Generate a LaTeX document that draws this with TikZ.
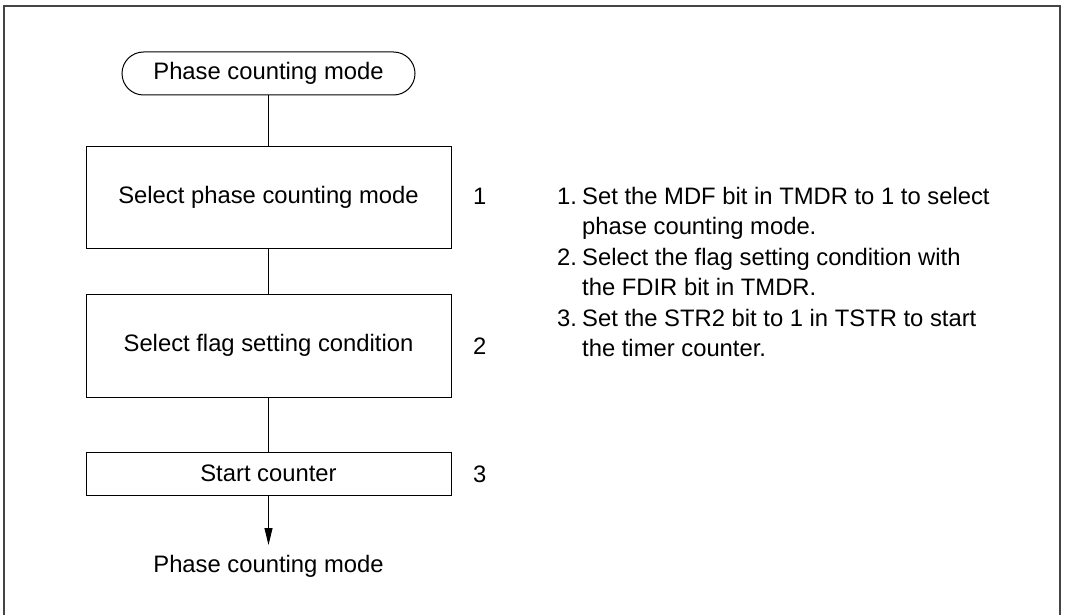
\documentclass[tikz,border=0pt]{standalone}
\usepackage{fontspec}
\setmainfont{Liberation Sans}
\usetikzlibrary{arrows.meta,shapes.misc}
\definecolor{framegray}{HTML}{454545}
\begin{document}
\begin{tikzpicture}[x=1pt,y=-1pt,
  every node/.style={font=\fontsize{23.8}{30.4}\selectfont, inner sep=0pt},
  procbox/.style={draw=black, line width=1pt, minimum width=365pt, anchor=center},
  termbox/.style={draw=black, line width=1pt, rounded rectangle, minimum width=293pt, minimum height=43pt, anchor=center},
  conn/.style={draw=black, line width=1pt},
  arr/.style={conn, -{Triangle[length=17pt,width=8pt]}},
  numlbl/.style={anchor=base west},
  listline/.style={anchor=base west}
]
\useasboundingbox (0,0) rectangle (1065,615);
\fill[white] (0,0) rectangle (1065,615);
% outer frame (open at the bottom)
\draw[framegray, line width=2pt] (4,620) -- (4,6) -- (1060,6) -- (1060,620);

\node[termbox] (t0) at (268.5,73.5) {Phase counting mode};
\node[procbox, minimum height=102pt] (b1) at (268.5,197) {Select phase counting mode};
\node[procbox, minimum height=103pt] (b2) at (268.5,345.5) {Select flag setting condition};
\node[procbox, minimum height=43pt] (b3) at (268.5,473.5) {Start counter};
\coordinate (endp) at (268.5,545);
\node[anchor=center] (tend) at (268.5,566) {Phase counting mode};

\draw[conn] (t0.south) -- (b1.north);
\draw[conn] (b1.south) -- (b2.north);
\draw[conn] (b2.south) -- (b3.north);
\draw[arr] (b3.south) -- (endp);

\node[numlbl] (n1) at (473,204.5) {1};
\node[numlbl] (n2) at (473,354.5) {2};
\node[numlbl] (n3) at (473,482) {3};

\node[listline] (l1) at (557,204.5) {1.};
\node[listline] (l1a) at (582,204.5) {Set the MDF bit in TMDR to 1 to select};
\node[listline] (l1b) at (582,234.9) {phase counting mode.};
\node[listline] (l2) at (557,265.3) {2.};
\node[listline] (l2a) at (582,265.3) {Select the flag setting condition with};
\node[listline] (l2b) at (582,295.7) {the FDIR bit in TMDR.};
\node[listline] (l3) at (557,326.1) {3.};
\node[listline] (l3a) at (582,326.1) {Set the STR2 bit to 1 in TSTR to start};
\node[listline] (l3b) at (582,356.5) {the timer counter.};
\end{tikzpicture}
\end{document}
